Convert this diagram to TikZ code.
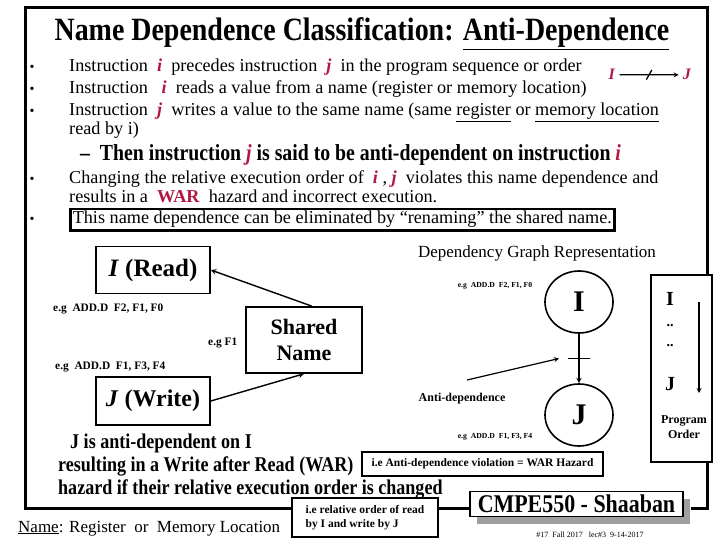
\documentclass[tikz,border=0pt]{standalone}
\usepackage{fontspec}
\setmainfont{Liberation Serif}
\newfontfamily\narrowfont[FakeStretch=0.86]{Liberation Serif}
\usepackage{xcolor}
\usepackage{tikz}
\usetikzlibrary{shapes.geometric,shadows}

\definecolor{warred}{RGB}{176,24,64}
\newcommand{\ri}[1]{\textcolor{warred}{\textbf{\textit{#1}}}}
\newcommand{\fs}[1]{\fontsize{#1}{#1}\selectfont}

\begin{document}
\begin{tikzpicture}[
    x=1pt, y=-1pt,
    txt/.style={anchor=base west, inner sep=0pt},
    dot/.style={anchor=base, inner sep=0pt, font=\fs{14}},
    box/.style={rectangle, draw, line width=1.6pt, fill=white, inner sep=0pt},
    vnode/.style={ellipse, draw, line width=1.6pt, minimum width=68pt, minimum height=62pt, inner sep=0pt, font=\fs{30}\bfseries},
    bar/.style={draw, line width=1.3pt, inner sep=0pt, minimum width=0pt},
    arrow/.style={->, >=stealth, line width=1.4pt},
    frame/.style={line width=3pt}
]
    \useasboundingbox (0,0) rectangle (720,540);

    \node[anchor=base, inner sep=0pt, font=\narrowfont\fs{32.5}\bfseries] (title) at (362,41) {Name Dependence Classification: \underline{Anti-Dependence}};

    \node[dot] (d1) at (32,72) {•};
    \node[dot] (d2) at (32,94) {•};
    \node[dot] (d3) at (32,116) {•};
    \node[txt, font=\fs{18.2}] (l1) at (69,72) {Instruction \ \ri{i} \ precedes instruction \ \ri{j} \ in the program sequence or order};
    \node[txt, font=\fs{18.2}] (l2) at (69,94) {Instruction \ \ \ri{i} \ reads a value from a name (register or memory location)};
    \node[txt, font=\fs{18.2}] (l3) at (69,116) {Instruction \ \ri{j} \ writes a value to the same name (same \underline{register} or \underline{memory location}};
    \node[txt, font=\fs{18.2}] (l4) at (69,135) {read by i)};

    \node[anchor=base, inner sep=0pt, font=\fs{16}] (si) at (612,80) {\ri{I}};
    \node[anchor=base, inner sep=0pt, font=\fs{16}] (sj) at (687,80) {\ri{J}};
    \draw[arrow, line width=1.2pt] ([xshift=4pt]si.east) -- node[bar, minimum height=11pt, rotate=-30] {} ([xshift=-4pt]sj.west);

    \node[txt, font=\narrowfont\fs{23}\bfseries] (then) at (80,161) {–\ \ Then instruction \ri{j} is said to be anti-dependent on instruction \ri{i}};

    \node[dot] (d4) at (32,184) {•};
    \node[dot] (d5) at (32,224) {•};
    \node[txt, font=\fs{18.2}] (l5) at (69,184) {Changing the relative execution order of \ \ri{i} , \ri{j} \ violates this name dependence and};
    \node[txt, font=\fs{18.2}] (l6) at (69,203) {results in a \ \textcolor{warred}{\textbf{WAR}} \ hazard and incorrect execution.};
    \node[txt, draw, line width=2.5pt, inner sep=2.5pt, font=\fs{18.2}] (l7) at (69,224) {This name dependence can be eliminated by “renaming” the shared name.};

    \node[box, minimum width=114pt, minimum height=47pt, font=\fs{25}\bfseries] (read) at (153,270) {\textit{I} (Read)};
    \node[box, minimum width=114pt, minimum height=48pt, font=\fs{24}\bfseries] (write) at (153,401) {\textit{J} (Write)};
    \node[box, minimum width=116pt, minimum height=66pt, align=center, font=\fs{22}\bfseries] (shared) at (304,340) {Shared\\[4pt]Name};
    \node[txt, font=\fs{11.4}\bfseries] (egi) at (53,311) {e.g \ ADD.D \ F2, F1, F0};
    \node[txt, font=\fs{11.4}\bfseries] (egf) at (208,345) {e.g F1};
    \node[txt, font=\fs{11.4}\bfseries] (egj) at (55,369) {e.g \ ADD.D \ F1, F3, F4};
    \draw[arrow] ([xshift=8pt]shared.north) -- (read.east);
    \draw[arrow] (write.east) -- (shared.south);

    \node[anchor=base, inner sep=0pt, font=\fs{17}] (dgr) at (537,258) {Dependency Graph Representation};
    \node[vnode] (ni) at (579,302) {I};
    \node[vnode] (nj) at (579,415) {J};
    \node[anchor=base, inner sep=0pt, font=\fs{7.7}\bfseries] (egni) at (495,287) {e.g \ ADD.D \ F2, F1, F0};
    \node[anchor=base, inner sep=0pt, font=\fs{7.7}\bfseries] (egnj) at (495,438) {e.g \ ADD.D \ F1, F3, F4};
    \draw[arrow] (ni) -- node[bar, minimum height=22pt, rotate=90] (cut) {} (nj);
    \node[anchor=base, inner sep=0pt, font=\fs{12}\bfseries] (anti) at (462,401) {Anti-dependence};
    \coordinate (antitail) at (467,380);
    \draw[arrow, line width=1.2pt] (antitail) -- ([xshift=-20pt]cut.center);

    \node[box, minimum width=61pt, minimum height=187pt] (order) at (681.5,368.5) {};
    \node[anchor=base, inner sep=0pt, font=\fs{20}\bfseries] (oi) at (670,305) {I};
    \node[anchor=base, inner sep=0pt, font=\fs{14}\bfseries] (od1) at (670,326) {..};
    \node[anchor=base, inner sep=0pt, font=\fs{14}\bfseries] (od2) at (670,346) {..};
    \node[anchor=base, inner sep=0pt, font=\fs{20}\bfseries] (oj) at (670,390) {J};
    \coordinate (otop) at (699,302);
    \coordinate (obot) at (699,393);
    \draw[arrow, line width=1.2pt] (otop) -- (obot);
    \node[anchor=base, inner sep=0pt, font=\fs{12}\bfseries] (prog) at (684,423) {Program};
    \node[anchor=base, inner sep=0pt, font=\fs{12}\bfseries] (ord) at (684,438) {Order};

    \node[txt, font=\narrowfont\fs{21}\bfseries] (b1) at (70,448) {J is anti-dependent on I};
    \node[txt, font=\narrowfont\fs{21}\bfseries] (b2) at (58,471) {resulting in a Write after Read (WAR)};
    \node[txt, font=\narrowfont\fs{21}\bfseries] (b3) at (58,494) {hazard if their relative execution order is changed};
    \node[box, line width=1.3pt, minimum width=241pt, minimum height=24pt, font=\fs{11.5}\bfseries] (warbox) at (482.5,464) {i.e Anti-dependence violation = WAR Hazard};
    \node[box, line width=1.3pt, minimum width=146pt, minimum height=39pt, align=left, font=\fs{11.5}\bfseries] (relbox) at (365,517.5) {i.e relative order of read\\[3pt]by I and write by J};
    \node[txt, font=\fs{17}] (namedef) at (18,532) {\underline{Name}: Register \ or \ Memory Location};

    \node[box, minimum width=213pt, minimum height=25pt, font=\narrowfont\fs{25.5}\bfseries,
        drop shadow={shadow xshift=7pt, shadow yshift=-7pt, fill=gray!75, opacity=1}] (cmpe) at (576.5,504) {CMPE550 - Shaaban};
    \node[anchor=base, inner sep=0pt, font=\fs{8}] (lec) at (590,537) {\#17 \ Fall 2017 \ \ lec\#3 \ 9-14-2017};

    \coordinate (fb) at (0,508);
    \coordinate (fr) at (707,0);
    \draw[frame] (order.north -| fr) -- (707,8) -- (25,8) -- (25,508) -- (relbox.west |- fb);
    \draw[frame] (relbox.east |- fb) -- (cmpe.west |- fb);
    \draw[frame] ([xshift=7pt]cmpe.east |- fb) -- (707,508) -- (order.south -| fr);
\end{tikzpicture}
\end{document}
